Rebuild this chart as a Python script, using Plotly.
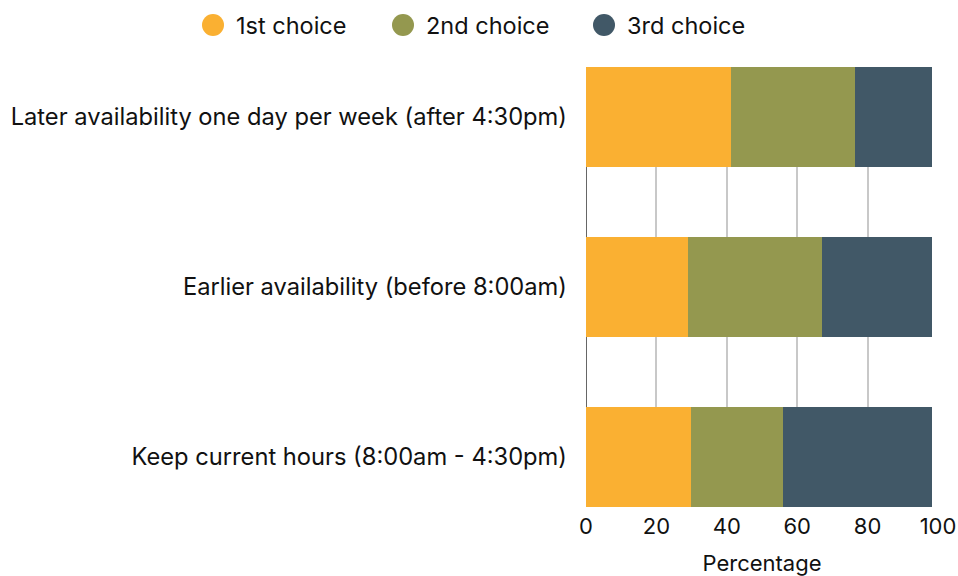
import plotly.graph_objects as go

# Survey: preferred opening hours, share of respondents by choice rank
categories = [
    "Later availability one day per week (after 4:30pm)",
    "Earlier availability (before 8:00am)",
    "Keep current hours (8:00am - 4:30pm)",
]
first_choice = [41.1, 29.0, 29.8]
second_choice = [35.3, 38.0, 26.1]
third_choice = [21.8, 31.2, 42.3]

series_names = ["1st choice", "2nd choice", "3rd choice"]
series_values = [first_choice, second_choice, third_choice]
series_colors = ["#FAB032", "#94984F", "#415867"]

x_ticks = [0, 20, 40, 60, 80, 100]

FONT = "Inter, Lato, sans-serif"

fig = go.Figure()
for name, vals, color in zip(series_names, series_values, series_colors):
    fig.add_trace(go.Bar(
        y=categories,
        x=vals,
        name=name,
        orientation="h",
        marker=dict(color=color, line=dict(width=0)),
        showlegend=False,
        hovertemplate="%{y}<br>" + name + ": %{x}%<extra></extra>",
    ))

# Plot area geometry (pixels) used to place the legend in paper units
W, H = 958, 576
L, R, T, B = 586, 20, 67, 69
pw, ph = W - L - R, H - T - B


def px_to_paper(px, py):
    return (px - L) / pw, (H - B - py) / ph


legend_items = [(213, "1st choice"), (403, "2nd choice"), (604, "3rd choice")]
shapes = []
annotations = []
r = 11
for (cx, label), color in zip(legend_items, series_colors):
    x0, y0 = px_to_paper(cx - r, 25 + r)
    x1, y1 = px_to_paper(cx + r, 25 - r)
    shapes.append(dict(type="circle", xref="paper", yref="paper",
                       x0=x0, y0=y0, x1=x1, y1=y1,
                       fillcolor=color, line=dict(width=0)))
    tx, ty = px_to_paper(cx + 21, 26)
    annotations.append(dict(text=label, xref="paper", yref="paper",
                            x=tx, y=ty, xanchor="left", yanchor="middle",
                            showarrow=False,
                            font=dict(family=FONT, size=23.5, color="#111111")))

fig.update_layout(
    width=W, height=H,
    margin=dict(l=L, r=R, t=T, b=B, pad=0),
    barmode="stack",
    bargap=0.412,
    plot_bgcolor="white",
    paper_bgcolor="white",
    font=dict(family=FONT, size=22, color="#111111"),
    shapes=shapes,
    annotations=annotations,
    xaxis=dict(
        range=[0, 100],
        tickvals=x_ticks,
        automargin=False,
        showgrid=True,
        gridcolor="#C8C8C8",
        gridwidth=2,
        zeroline=True,
        zerolinecolor="#666666",
        zerolinewidth=1,
        showline=False,
        ticks="",
        ticklabelstandoff=4,
        tickfont=dict(size=22),
        title=dict(text="Percentage", font=dict(size=22), standoff=17),
        fixedrange=True,
    ),
    yaxis=dict(
        categoryorder="array",
        categoryarray=categories[::-1],
        range=[-0.295, 2.295],
        automargin=False,
        showgrid=False,
        zeroline=False,
        showline=False,
        ticks="",
        ticklabelstandoff=18,
        tickfont=dict(size=23.7),
        fixedrange=True,
    ),
)

fig.write_html("out.html")
